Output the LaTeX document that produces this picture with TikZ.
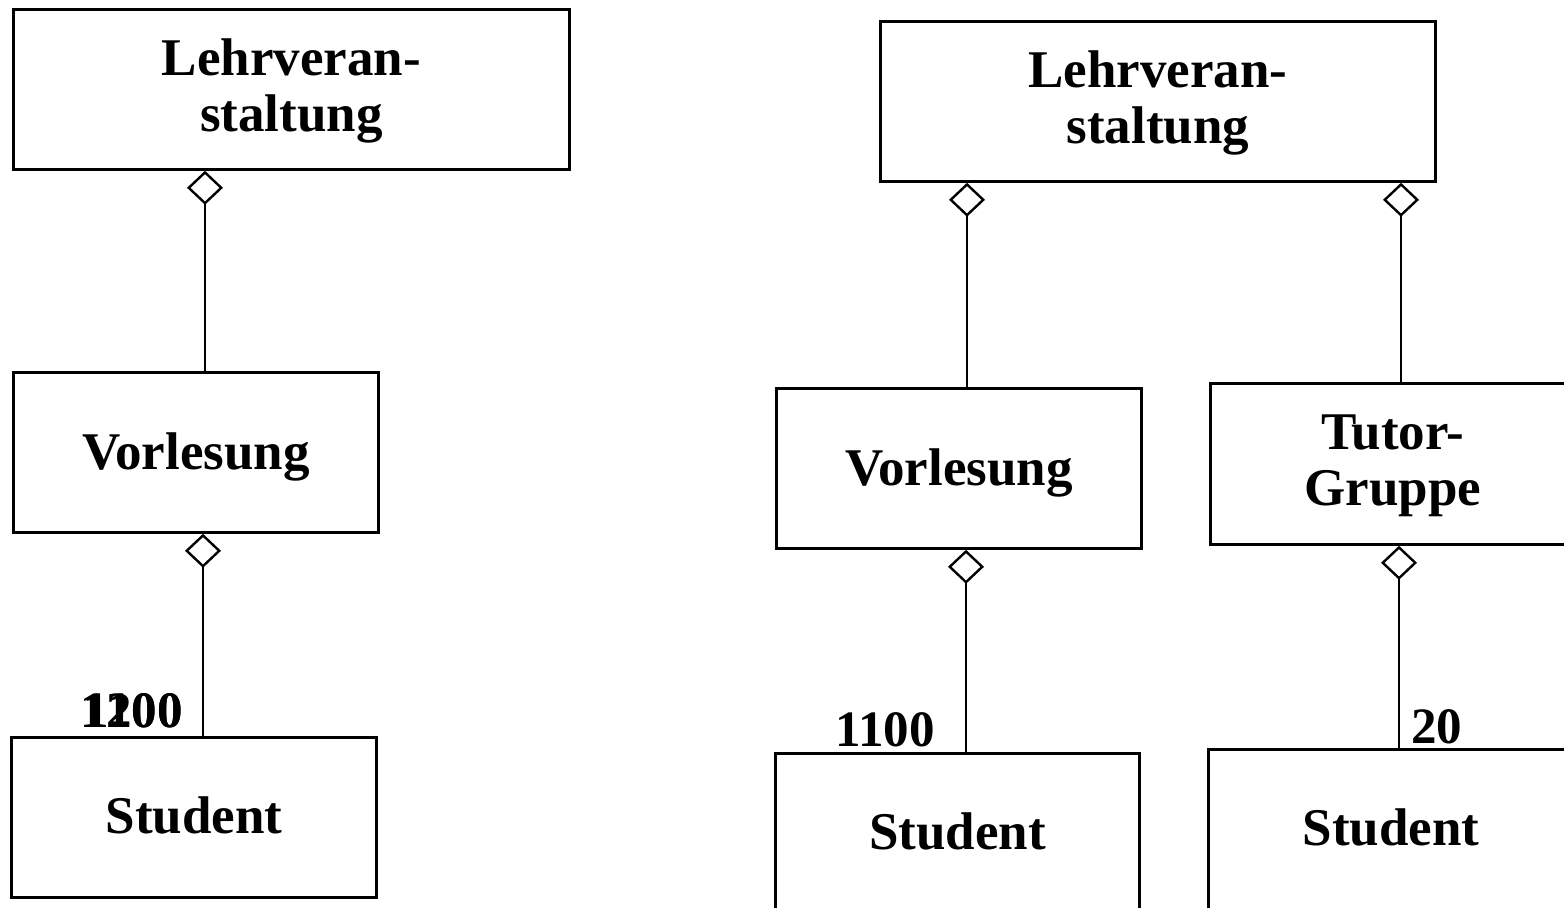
\documentclass[tikz,border=0pt]{standalone}
\usepackage{fontspec}
\setmainfont{Liberation Serif}
\usetikzlibrary{arrows.meta}
% class names with descenders sit a little below the centre of their boxes
\newcommand\lowered[2][2.5pt]{\raisebox{-#1}[\height][\depth]{#2}}
\tikzset{
  cls/.style={draw, line width=1.4pt, fill=white, anchor=north west, inner sep=0pt,
    align=center, font=\bfseries\fontsize{26.5}{28}\selectfont},
  agg/.style={line width=1pt, -{Diamond[open, length=17pt, width=18pt, line width=1.2pt]}},
  mult/.style={anchor=base east, inner sep=0pt, font=\bfseries\fontsize{25.5}{27}\selectfont}
}
\begin{document}
\begin{tikzpicture}[x=0.5pt, y=-0.5pt]
  \useasboundingbox (0,0) rectangle (1564,908);
  \clip (0,0) rectangle (1564,908);

  % left: course made of a lecture
  \node[cls, minimum width=278pt, minimum height=80pt] (l1) at (12,8) {\lowered[1pt]{\parbox{200pt}{\centering Lehrveran-\\staltung}}};
  \node[cls, minimum width=182.5pt, minimum height=80pt] (v1) at (12,371) {\lowered{Vorlesung}};
  \node[cls, minimum width=182.5pt, minimum height=80pt, line width=1.6pt] (s1) at (10,736) {\lowered[-1pt]{Student}};
  \coordinate (xa) at (205,0);
  \coordinate (xb) at (203,0);
  \draw[agg] (v1.north -| xa) -- (l1.south -| xa);
  \draw[agg] (s1.north -| xb) -- (v1.south -| xb);
  \node[mult] (m1) at (183,727) {1100};
  \node[mult] (m2) at (183,727) {1200};

  % right: course made of a lecture and tutor groups
  \node[cls, minimum width=277.5pt, minimum height=80pt] (l2) at (879,20) {\lowered[1pt]{\parbox{200pt}{\centering Lehrveran-\\staltung}}};
  \node[cls, minimum width=182.5pt, minimum height=80pt] (v2) at (775,387) {\lowered{Vorlesung}};
  \node[cls, minimum width=182.5pt, minimum height=80.5pt] (t2) at (1209,382) {\lowered[1pt]{\parbox{150pt}{\centering Tutor-\\Gruppe}}};
  \node[cls, minimum width=182pt, minimum height=80pt] (s2) at (774,752) {\lowered[-1pt]{Student}};
  \node[cls, minimum width=182.5pt, minimum height=80pt] (s3) at (1207,748) {\lowered[-1pt]{Student}};
  \coordinate (xc) at (967,0);
  \coordinate (xd) at (1401,0);
  \coordinate (xe) at (966,0);
  \coordinate (xf) at (1399,0);
  \draw[agg] (v2.north -| xc) -- (l2.south -| xc);
  \draw[agg] (t2.north -| xd) -- (l2.south -| xd);
  \draw[agg] (s2.north -| xe) -- (v2.south -| xe);
  \draw[agg] (s3.north -| xf) -- (t2.south -| xf);
  \node[mult] (m3) at (935,747) {1100};
  \node[mult, anchor=base west] (m4) at (1411,743) {20};
\end{tikzpicture}
\end{document}
